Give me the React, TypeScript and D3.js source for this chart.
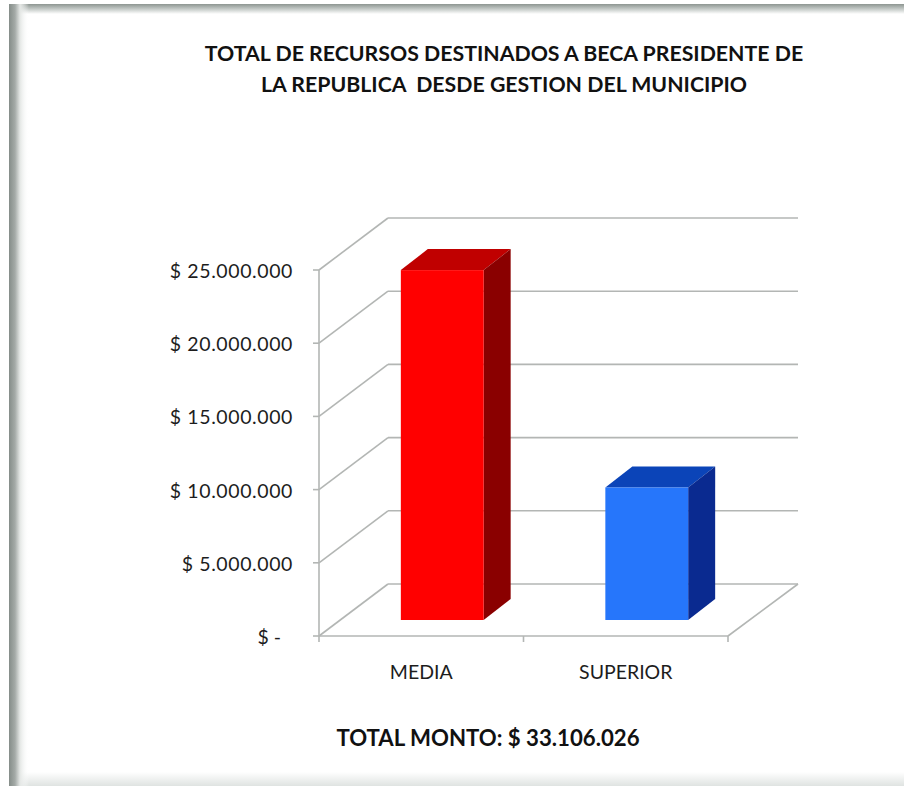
import React from "react";
import * as d3 from "d3";

const categories = ["MEDIA", "SUPERIOR"];
const values = [23900000, 9050000];
const frontColors = ["#ff0000", "#2676fb"];
const topColors = ["#c00000", "#0b44b8"];
const sideColors = ["#8a0000", "#0a2a90"];
const yTicks = [0, 5000000, 10000000, 15000000, 20000000, 25000000];
const yTickLabels = ["$ -", "$ 5.000.000", "$ 10.000.000", "$ 15.000.000", "$ 20.000.000", "$ 25.000.000"];
const titleLines = [
  "TOTAL DE RECURSOS DESTINADOS A BECA PRESIDENTE DE",
  "LA REPUBLICA  DESDE GESTION DEL MUNICIPIO",
];
const totalLabel = "TOTAL MONTO: $ 33.106.026";

const font = "Lato, 'Open Sans', sans-serif";
const textColor = "#1d1d1d";
const gridColor = "#b3b6b4";

export default function App() {
  const y = d3.scaleLinear().domain([0, 25000000]).range([636, 270]);
  const x = d3.scaleBand<string>().domain(categories).range([319, 728]);
  const ticksX = [319, x("SUPERIOR") as number, 728];
  const wallDx = 69;
  const wallDy = -52;
  const barInsetX = 21;
  const barInsetY = -16;
  const barW = x.bandwidth() * 0.405;
  const depthX = 27;
  const depthY = -21;
  const poly = (p: number[][]) => p.map((q) => q.join(",")).join(" ");

  return (
    <svg width={904} height={786} style={{ position: "absolute", left: 0, top: 0, background: "#fff" }}>
      <defs>
        <linearGradient id="lb" x1="0" x2="1" y1="0" y2="0">
          <stop offset="0" stopColor="#858d89" />
          <stop offset="0.3" stopColor="#a4aaa7" />
          <stop offset="0.55" stopColor="#e4e7e5" />
          <stop offset="1" stopColor="#ffffff" stopOpacity={0} />
        </linearGradient>
        <linearGradient id="tb" x1="0" x2="0" y1="0" y2="1">
          <stop offset="0" stopColor="#8d9591" />
          <stop offset="0.5" stopColor="#c4cac7" />
          <stop offset="1" stopColor="#ffffff" />
        </linearGradient>
        <linearGradient id="bb" x1="0" x2="0" y1="0" y2="1">
          <stop offset="0" stopColor="#ffffff" />
          <stop offset="1" stopColor="#dfe3e1" />
        </linearGradient>
      </defs>

      <rect x={9} y={4} width={895} height={10} fill="url(#tb)" />
      <rect x={9} y={772} width={895} height={14} fill="url(#bb)" />
      <rect x={9} y={4} width={20} height={782} fill="url(#lb)" />

      {titleLines.map((t, i) => (
        <text key={t} x={504} y={61 + i * 31} textAnchor="middle" fontFamily={font} fontWeight={700} fontSize={21.3} fill="#111" xmlSpace="preserve">
          {t}
        </text>
      ))}

      <g fill="none" stroke={gridColor} strokeWidth={1.6}>
        {yTicks.map((v) => (
          <g key={v}>
            <line x1={319} x2={319 + wallDx} y1={y(v)} y2={y(v) + wallDy} />
            <line x1={319 + wallDx} x2={798} y1={y(v) + wallDy} y2={y(v) + wallDy} />
            <line x1={313} x2={319} y1={y(v)} y2={y(v)} />
          </g>
        ))}
        <line x1={319} x2={319} y1={y(25000000)} y2={y(0)} />
        <line x1={319} x2={728} y1={y(0)} y2={y(0)} />
        <line x1={728} x2={798} y1={y(0)} y2={y(0) + wallDy} />
        {ticksX.map((t) => (
          <line key={t} x1={t} x2={t} y1={y(0)} y2={y(0) + 6} />
        ))}
      </g>

      {yTicks.map((v, i) => (
        <text key={v} x={i === 0 ? 281 : 293} y={y(v) + 8} textAnchor="end" fontFamily={font} fontSize={19.5} letterSpacing={i === 0 ? 0 : 0.6} fill={textColor}>
          {yTickLabels[i]}
        </text>
      ))}

      {categories.map((c, i) => {
        const l = (x(c) as number) + (x.bandwidth() - barW) / 2 + barInsetX;
        const r = l + barW;
        const base = y(0) + barInsetY;
        const top = y(values[i]) + barInsetY;
        return (
          <g key={c}>
            <polygon points={poly([[l, top], [l + depthX, top + depthY], [r + depthX, top + depthY], [r, top]])} fill={topColors[i]} />
            <polygon points={poly([[r, top], [r + depthX, top + depthY], [r + depthX, base + depthY], [r, base]])} fill={sideColors[i]} />
            <rect x={l} y={top} width={barW} height={base - top} fill={frontColors[i]} />
            <text x={(x(c) as number) + x.bandwidth() / 2} y={679} textAnchor="middle" fontFamily={font} fontSize={19.5} fill={textColor}>
              {c}
            </text>
          </g>
        );
      })}

      <text x={488} y={746} textAnchor="middle" fontFamily={font} fontWeight={700} fontSize={22.2} fill="#111">
        {totalLabel}
      </text>
    </svg>
  );
}
